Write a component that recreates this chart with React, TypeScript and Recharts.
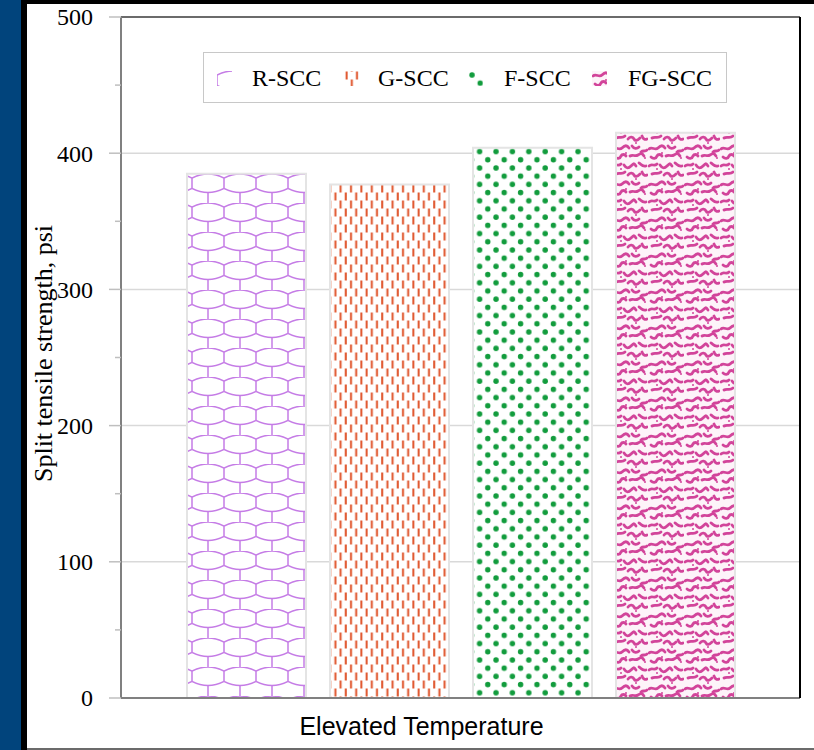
import React from 'react';
import { BarChart, Bar, XAxis, YAxis, CartesianGrid, Legend } from 'recharts';

const categories = ['Elevated Temperature'];
const mixNames = ['R-SCC', 'G-SCC', 'F-SCC', 'FG-SCC'];
const rScc = [385];
const gScc = [377];
const fScc = [404];
const fgScc = [415];
const yTicks = [0, 50, 100, 150, 200, 250, 300, 350, 400, 450, 500];
const gridValues = [100, 200, 300, 400];

const data = categories.map((name, i) => ({
  name,
  'R-SCC': rScc[i],
  'G-SCC': gScc[i],
  'F-SCC': fScc[i],
  'FG-SCC': fgScc[i],
}));

const patternIds: Record<string, string> = {
  'R-SCC': 'patR',
  'G-SCC': 'patG',
  'F-SCC': 'patF',
  'FG-SCC': 'patFG',
};

const serif = "'Times New Roman', 'Liberation Serif', serif";
const sans = "Arial, 'Liberation Sans', sans-serif";

const Patterns = () => (
  <defs>
    <pattern id="patR" patternUnits="userSpaceOnUse" width={32} height={29}>
      <rect width={32} height={29} fill="#fff" />
      <g stroke="#c57ce6" strokeWidth={1.5} fill="none">
        <path d="M0,4 Q16,-4 32,4" />
        <path d="M0,4 V14.5 M32,4 V14.5" />
        <path d="M0,14.5 Q16,22.5 32,14.5" />
        <path d="M16,18.5 V29" />
      </g>
    </pattern>
    <pattern id="patG" patternUnits="userSpaceOnUse" width={10.4} height={16}>
      <rect width={10.4} height={16} fill="#fff" />
      <rect x={1.6} y={0.5} width={2} height={8} fill="#e0552c" />
      <rect x={6.8} y={8.5} width={2} height={8} fill="#e0552c" />
      <rect x={6.8} y={-7.5} width={2} height={8} fill="#e0552c" />
    </pattern>
    <pattern id="patF" patternUnits="userSpaceOnUse" width={16.4} height={16.4}>
      <rect width={16.4} height={16.4} fill="#fff" />
      <circle cx={4} cy={4} r={2.7} fill="#129c3d" />
      <circle cx={12.2} cy={12.2} r={2.7} fill="#129c3d" />
    </pattern>
    <pattern id="patFG" patternUnits="userSpaceOnUse" width={36} height={36}>
      <rect width={36} height={36} fill="#fdf3f9" />
      <g stroke="#d2449a" strokeWidth={2.8} fill="none" strokeLinecap="round">
        <path d="M1,5 c3,-3 6,2 9,-1 s5,-3 7,0" />
        <path d="M20,2 c2,3 5,3 7,1" />
        <path d="M29,8 c2,-2 4,0 6,-2" />
        <path d="M3,13 c2,2 5,2 6,-1 c1,-2 4,-2 5,0" />
        <path d="M18,12 c3,-2 5,1 8,-1 s4,-2 6,1" />
        <path d="M1,22 c3,-3 5,1 8,-2" />
        <path d="M12,21 c2,3 4,4 7,1 s3,-3 5,0" />
        <path d="M27,19 c2,1 3,4 7,3" />
        <path d="M4,30 c3,-2 6,1 9,-2" />
        <path d="M16,31 c2,-3 5,-2 6,0 s3,2 6,-1" />
        <path d="M30,28 c1,3 3,4 5,3" />
      </g>
      <g fill="#d2449a">
        <circle cx={14} cy={9} r={1} />
        <circle cx={33} cy={14} r={1} />
        <circle cx={9} cy={25} r={1} />
        <circle cx={24} cy={35} r={1} />
      </g>
    </pattern>
  </defs>
);

const YTick = (props: any) => {
  const { x, y, payload } = props;
  const major = payload.value % 100 === 0;
  return (
    <g>
      <line x1={x - (major ? 12 : 6)} x2={x} y1={y} y2={y} stroke="#bfbfbf" strokeWidth={1.5} />
      {major && (
        <text x={x - 28} y={y} dy="0.35em" textAnchor="end" fill="#000" fontSize={24} fontFamily={serif}>
          {payload.value}
        </text>
      )}
    </g>
  );
};

const legendLeft = [13, 140, 264, 388];
const textLeft = [48, 174, 300, 424];

const LegendBox = () => (
  <div
    style={{
      position: 'relative',
      width: 524,
      height: 51,
      boxSizing: 'border-box',
      border: '1.5px solid #c8c8c8',
      background: '#fff',
    }}
  >
    {mixNames.map((n, i) => (
      <React.Fragment key={n}>
        <svg
          width={15}
          height={15}
          style={{ position: 'absolute', left: legendLeft[i], top: 18 }}
        >
          <rect width={15} height={15} fill={`url(#${patternIds[n]})`} />
        </svg>
        <span
          style={{
            position: 'absolute',
            left: textLeft[i],
            top: 11,
            fontFamily: serif,
            fontSize: 24,
            lineHeight: '28px',
            color: '#000',
            whiteSpace: 'nowrap',
          }}
        >
          {n}
        </span>
      </React.Fragment>
    ))}
  </div>
);

export default function App() {
  return (
    <div
      style={{
        position: 'absolute',
        left: 0,
        top: 0,
        width: 814,
        height: 750,
        background: '#fff',
        overflow: 'hidden',
        fontFamily: serif,
      }}
    >
      <div style={{ position: 'absolute', left: 0, top: 0, width: 21, height: 750, background: '#01447c' }} />
      <div style={{ position: 'absolute', left: 21, top: 0, width: 6, height: 750, background: '#000' }} />
      <div style={{ position: 'absolute', left: 21, top: 0, width: 793, height: 4, background: '#000' }} />
      <div style={{ position: 'absolute', left: 27, top: 748, width: 787, height: 2, background: '#6b6b6b' }} />
      <div style={{ position: 'absolute', left: 0, top: 0 }}>
        <BarChart
          width={814}
          height={750}
          data={data}
          margin={{ top: 0, right: 0, bottom: 0, left: 0 }}
          barCategoryGap={66}
          barGap={24}
        >
          <Patterns />
          <CartesianGrid vertical={false} horizontalValues={gridValues} stroke="#d9d9d9" strokeWidth={1.5} />
          <XAxis
            xAxisId="top"
            orientation="top"
            dataKey="name"
            height={17}
            tick={false}
            tickLine={false}
            axisLine={{ stroke: '#6b6b6b', strokeWidth: 2 }}
          />
          <XAxis
            dataKey="name"
            height={52}
            tick={false}
            tickLine={false}
            axisLine={{ stroke: '#808080', strokeWidth: 2 }}
            label={{
              content: ({ viewBox }: any) => (
                <text
                  x={viewBox.x + viewBox.width / 2 - 39}
                  y={viewBox.y + 37}
                  textAnchor="middle"
                  fontFamily={sans}
                  fontSize={25}
                  fill="#000"
                >
                  Elevated Temperature
                </text>
              ),
            }}
          />
          <YAxis
            domain={[0, 500]}
            ticks={yTicks}
            interval={0}
            width={121}
            tickSize={0}
            tickMargin={0}
            tickLine={false}
            tick={<YTick />}
            axisLine={{ stroke: '#808080', strokeWidth: 2 }}
            label={{
              content: ({ viewBox }: any) => {
                const cx = viewBox.x + 43;
                const cy = viewBox.y + viewBox.height / 2 - 4;
                return (
                  <text
                    x={cx}
                    y={cy}
                    transform={`rotate(-90, ${cx}, ${cy})`}
                    textAnchor="middle"
                    dominantBaseline="central"
                    fontFamily={serif}
                    fontSize={26}
                    fill="#000"
                  >
                    Split tensile strength, psi
                  </text>
                );
              },
            }}
          />
          <YAxis
            yAxisId="right"
            orientation="right"
            domain={[0, 500]}
            width={14}
            tick={false}
            tickLine={false}
            axisLine={{ stroke: '#000', strokeWidth: 2 }}
          />
          <Legend
            layout="horizontal"
            verticalAlign="middle"
            align="center"
            wrapperStyle={{ position: 'absolute', left: 203, top: 52, width: 524, height: 51 }}
            content={() => <LegendBox />}
          />
          {mixNames.map((n) => (
            <Bar
              key={n}
              dataKey={n}
              fill={`url(#${patternIds[n]})`}
              stroke="#e4e4e4"
              strokeWidth={2}
              isAnimationActive={false}
            />
          ))}
        </BarChart>
      </div>
    </div>
  );
}
